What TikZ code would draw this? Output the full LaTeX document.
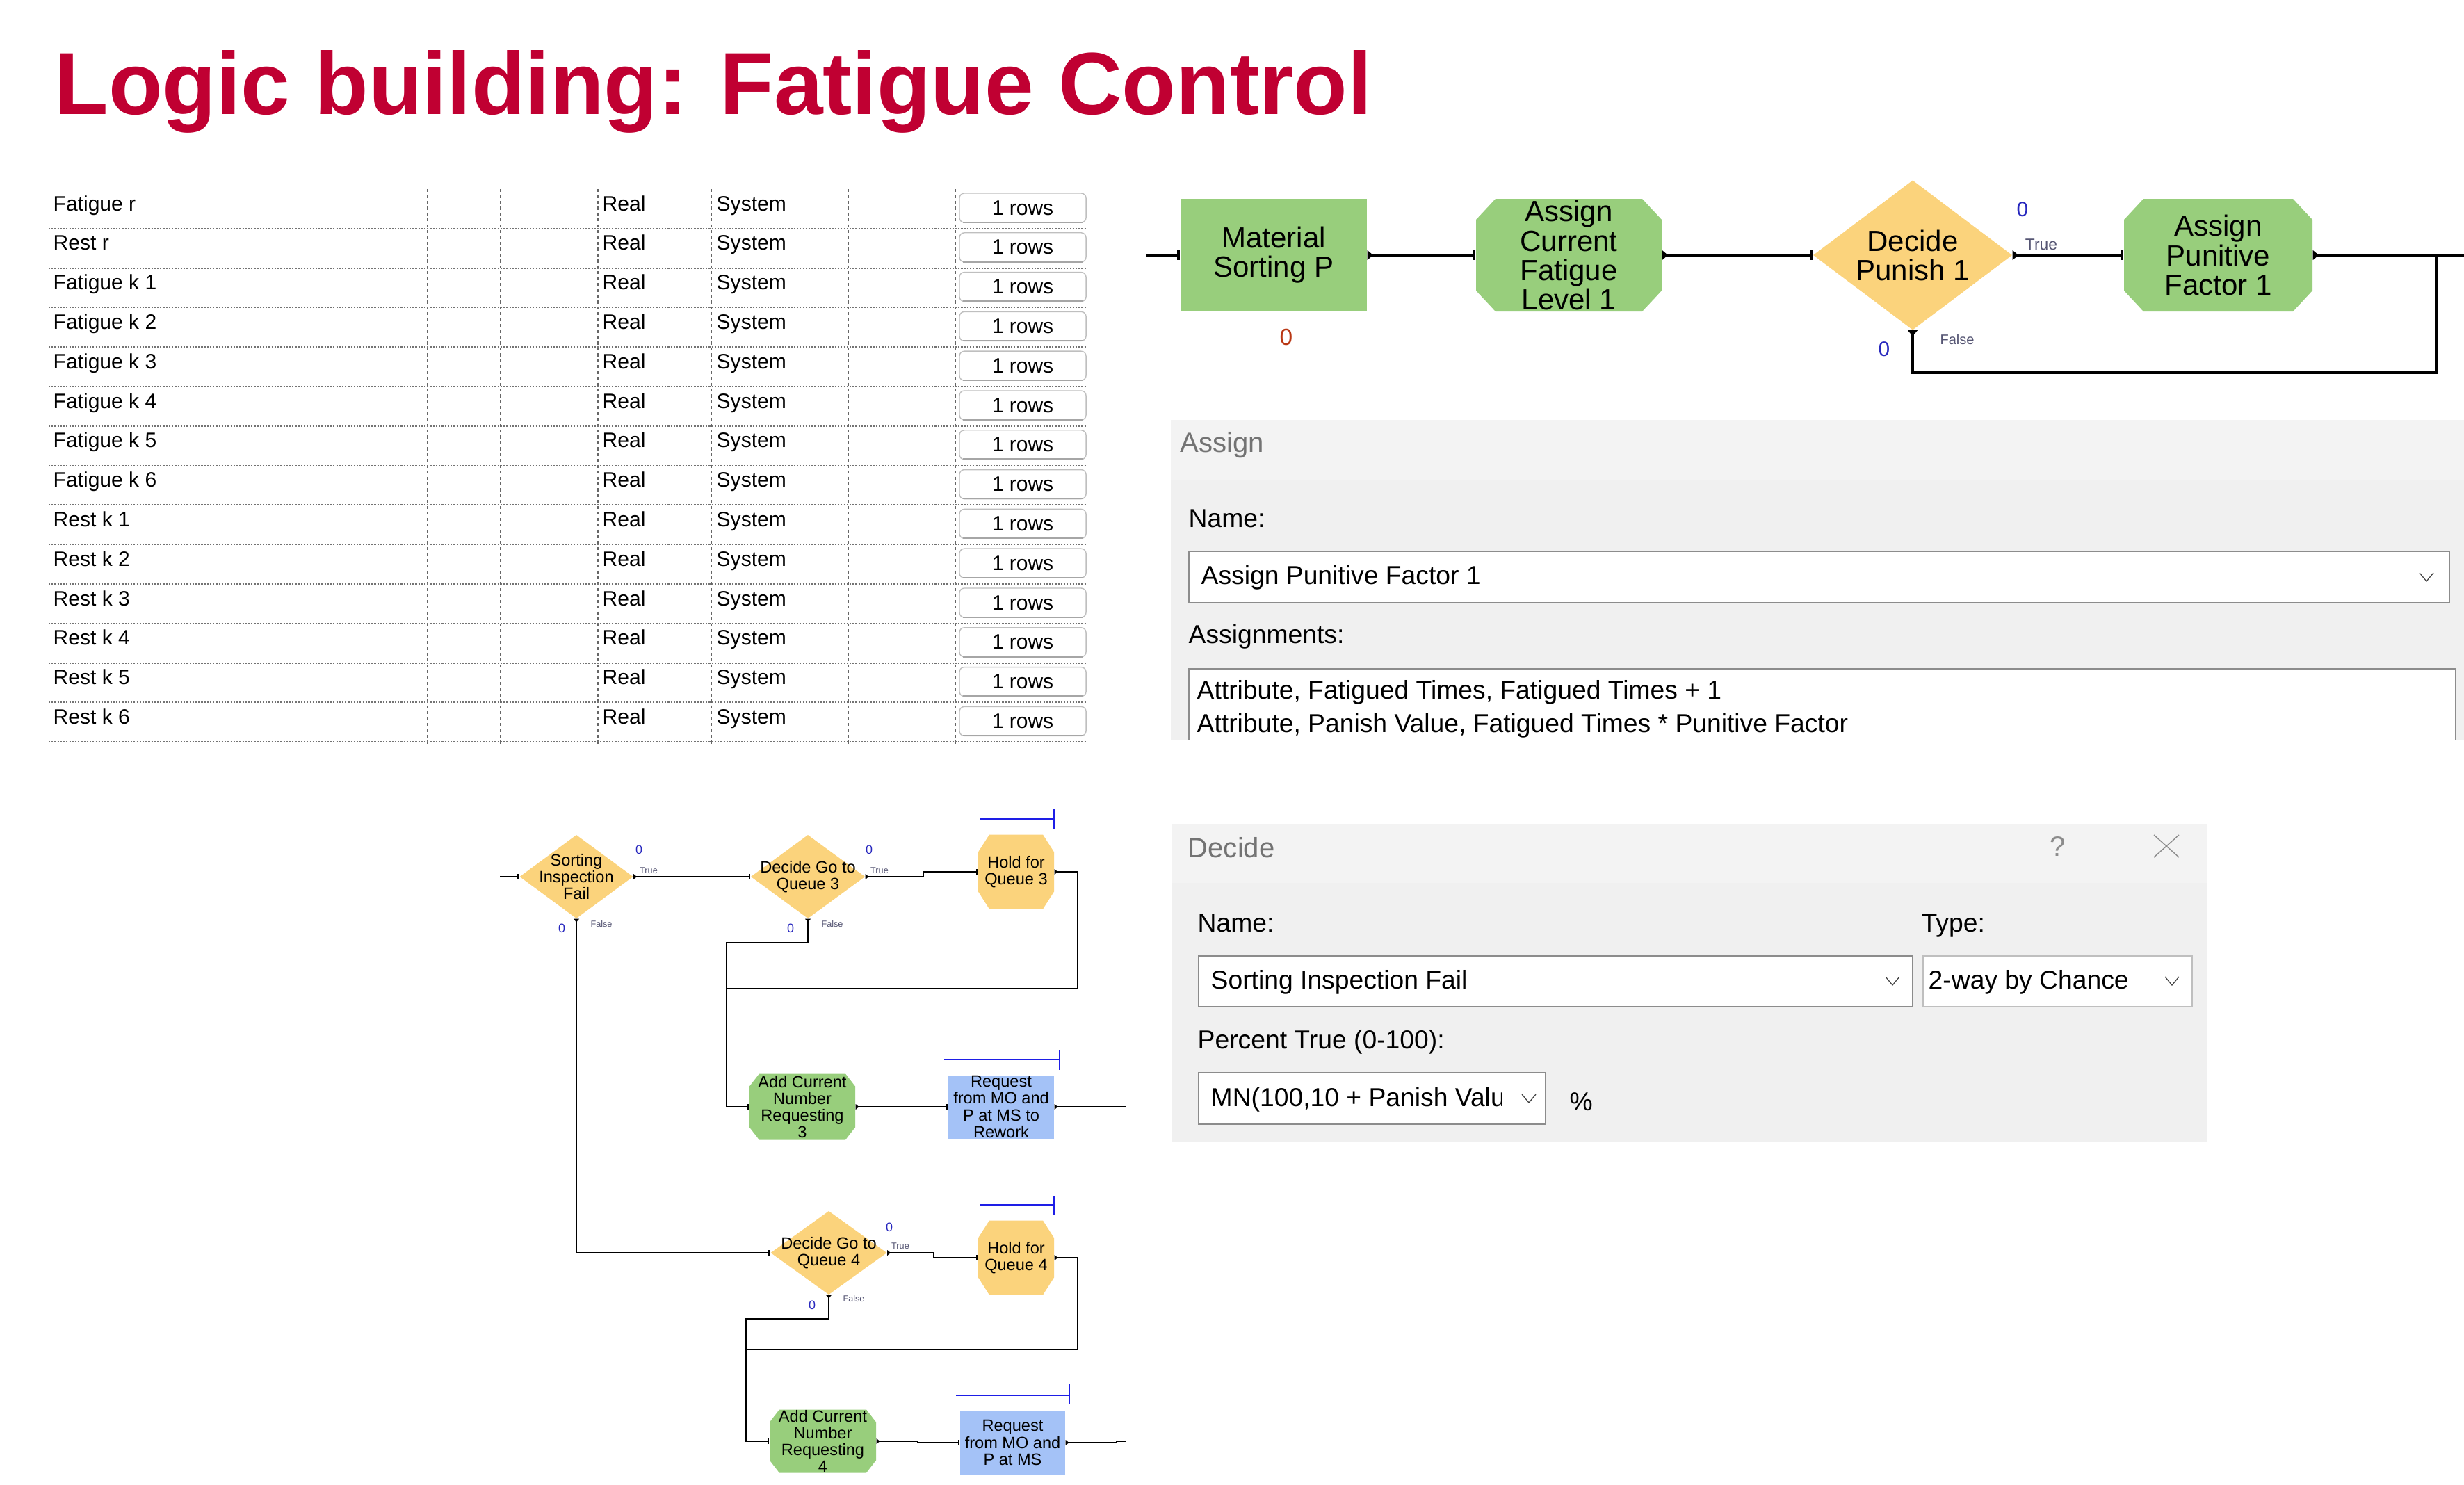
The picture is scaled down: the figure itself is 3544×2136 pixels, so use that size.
\documentclass[tikz,border=0pt]{standalone}
\usepackage{fontspec}
\setmainfont{Liberation Sans}
\usetikzlibrary{calc}
\definecolor{titlered}{RGB}{192,0,50}
\definecolor{pgreen}{RGB}{152,206,124}
\definecolor{dyellow}{RGB}{251,211,124}
\definecolor{rblue}{RGB}{164,194,247}
\definecolor{panelgrey}{RGB}{240,240,240}
\definecolor{panelhead}{RGB}{243,243,243}
\definecolor{cntblue}{RGB}{40,40,190}
\definecolor{cntred}{RGB}{185,55,20}
\definecolor{lblgrey}{RGB}{85,85,115}
\definecolor{qblue}{RGB}{30,30,230}
\newcommand\octblk[9]{%
  \fill[#8] ({#2-#4/2+#6},{#3-#5/2}) -- ({#2+#4/2-#6},{#3-#5/2}) -- ({#2+#4/2},{#3-#5/2+#7}) -- ({#2+#4/2},{#3+#5/2-#7}) -- ({#2+#4/2-#6},{#3+#5/2}) -- ({#2-#4/2+#6},{#3+#5/2}) -- ({#2-#4/2},{#3+#5/2-#7}) -- ({#2-#4/2},{#3-#5/2+#7}) -- cycle;
  \node[blk,minimum width={#4*0.01cm},minimum height={#5*0.01cm}] (#1) at (#2,#3) {#9};}
\newcommand\rectblk[7]{%
  \fill[#6] ({#2-#4/2},{#3-#5/2}) rectangle ({#2+#4/2},{#3+#5/2});
  \node[blk,minimum width={#4*0.01cm},minimum height={#5*0.01cm}] (#1) at (#2,#3) {#7};}
\newcommand\diamblk[7]{%
  \fill[#6] ({#2-#4/2},#3) -- (#2,{#3-#5/2}) -- ({#2+#4/2},#3) -- (#2,{#3+#5/2}) -- cycle;
  \node[blk,minimum width={#4*0.01cm},minimum height={#5*0.01cm}] (#1) at (#2,#3) {#7};}
\newcommand\inmk[2]{\fill ($(#1)+(-#2*0.65,-#2)$) rectangle ($(#1)+(0,#2)$);}
\newcommand\outmk[2]{\fill ($(#1)+(0,-#2)$) -- ($(#1)+(#2*1.2,0)$) -- ($(#1)+(0,#2)$) -- cycle;}
\newcommand\downmk[2]{\fill ($(#1)+(-#2,0)$) -- ($(#1)+(0,#2*1.2)$) -- ($(#1)+(#2,0)$) -- cycle;}
\newcommand\chev[2]{\draw[line width=0.35pt,black!75] ({#1-10},{#2-6}) -- (#1,{#2+6}) -- ({#1+10},{#2-6});}
\begin{document}
\begin{tikzpicture}[x=0.01cm,y=-0.01cm,
  blk/.style={inner sep=0pt,align=center,text=black,blkfont},
  blkfont/.style={font=\fontsize{11.95}{11.95}\selectfont},
  topconn/.style={line width=1.1pt},
  botconn/.style={line width=0.7pt},
  tbl/.style={anchor=base west,inner sep=0pt,font=\fontsize{8.54}{10}\selectfont},
  btn/.style={draw=black!25,fill=white,rounded corners=0.07cm,minimum width=1.82cm,minimum height=0.42cm,inner sep=0pt,font=\fontsize{8.54}{10}\selectfont},
  hdot/.style={black!55,line width=0.6pt,dash pattern=on 0.6pt off 0.6pt},
  vdash/.style={black!60,line width=0.3pt,dash pattern=on 1.2pt off 1.2pt},
  qline/.style={qblue,line width=0.8pt},
  cntb/.style={inner sep=0pt,text=cntblue,font=\fontsize{5.1}{6}\selectfont},
  tf/.style={inner sep=0pt,text=lblgrey,font=\fontsize{3.6}{4}\selectfont},
  cntbt/.style={inner sep=0pt,text=cntblue,font=\fontsize{8.5}{10}\selectfont},
  cntr/.style={inner sep=0pt,text=cntred,font=\fontsize{9.5}{11}\selectfont},
  tft/.style={inner sep=0pt,text=lblgrey,font=\fontsize{6.5}{7}\selectfont},
  tft2/.style={inner sep=0pt,text=lblgrey,font=\fontsize{5.7}{6}\selectfont},
  dlab/.style={anchor=base west,inner sep=0pt,font=\fontsize{10.6}{12}\selectfont},
  dtitle/.style={anchor=base west,inner sep=0pt,text=black!55,font=\fontsize{11.4}{13}\selectfont},
  dbox/.style={draw=black!45,line width=0.5pt,fill=white}]
\useasboundingbox (0,0) rectangle (3544,2136);

% title
\node[anchor=base west,inner sep=0pt,text=titlered,font=\fontsize{36.1}{40}\selectfont\bfseries] (title) at (78,164) {Logic building: Fatigue Control};

% table
\foreach \x in {615,720,860,1023,1220,1374}{\draw[vdash] (\x,272) -- (\x,1070);}
\foreach \k in {1,...,14}{\draw[hdot] (70,{272+56.8*\k}) -- (1562,{272+56.8*\k});}
\foreach \n [count=\i from 0] in {Fatigue r,Rest r,Fatigue k 1,Fatigue k 2,Fatigue k 3,Fatigue k 4,Fatigue k 5,Fatigue k 6,Rest k 1,Rest k 2,Rest k 3,Rest k 4,Rest k 5,Rest k 6}{
  \node[tbl] (nm\i) at (76,{272+56.8*\i+31}) {\n};
  \node[tbl] (re\i) at (866,{272+56.8*\i+31}) {Real};
  \node[tbl] (sy\i) at (1030,{272+56.8*\i+31}) {System};
  \node[btn] (bt\i) at (1471,{272+56.8*\i+27}) {1 rows};
  \draw[black!35,line width=0.6pt] ($(bt\i.south west)+(6,-1)$) -- ($(bt\i.south east)+(-6,-1)$);
}

% top flowchart
\octblk{acf}{2256.5}{367}{267}{162}{28}{30}{pgreen}{Assign\\Current\\Fatigue\\Level 1}
\rectblk{msp}{1832}{367}{268}{162}{pgreen}{Material\\Sorting P}
\diamblk{dp1}{2751}{367}{286}{215}{dyellow}{Decide\\Punish 1}
\octblk{apf}{3190.5}{367}{271}{162}{28}{30}{pgreen}{Assign\\Punitive\\Factor 1}
\coordinate (tin) at (1648,367);
\coordinate (tout) at (3544,367);
\coordinate (lpr) at (3504,367);
\draw[topconn] (tin) -- (msp.west);
\draw[topconn] (msp.east) -- (acf.west);
\draw[topconn] (acf.east) -- (dp1.west);
\draw[topconn] (dp1.east) -- (apf.west);
\draw[topconn] (apf.east) -- (tout);
\draw[topconn] (lpr) -- (3504,536) -- (dp1.south |- 0,536) -- (dp1.south);
\foreach \b in {msp,acf,dp1,apf}{\inmk{\b.west}{7}\outmk{\b.east}{7}}
\downmk{dp1.south}{7}
\node[cntr] (z0) at (1850,485) {0};
\node[cntbt] (z3) at (2909,301) {0};
\node[tft] (t0) at (2936,352) {True};
\node[cntbt] (z4) at (2710,502) {0};
\node[tft2] (f0) at (2815,488) {False};

% assign panel
\fill[panelgrey] (1684,604) rectangle (3544,1064);
\fill[panelhead] (1684,604) rectangle (3544,690);
\node[dtitle] (atitle) at (1697,650) {Assign};
\node[dlab] (aname) at (1709,758) {Name:};
\draw[dbox] (1710,793) rectangle (3523,867);
\node[dlab] (aval) at (1727,840) {Assign Punitive Factor 1};
\chev{3490}{830}
\node[dlab] (aasg) at (1709,925) {Assignments:};
\fill[white] (1710,962) rectangle (3532,1064);
\draw[black!45,line width=0.5pt] (1710,1064) -- (1710,962) -- (3532,962) -- (3532,1064);
\node[dlab] (al1) at (1721,1005) {Attribute, Fatigued Times, Fatigued Times + 1};
\node[dlab] (al2) at (1721,1053) {Attribute, Panish Value, Fatigued Times * Punitive Factor};

% decide panel
\fill[panelgrey] (1685,1185) rectangle (3175,1643);
\fill[panelhead] (1685,1185) rectangle (3175,1270);
\node[dtitle] (dtit) at (1708,1233) {Decide};
\node[inner sep=0pt,text=black!45,font=\fontsize{11.4}{13}\selectfont] (qm) at (2960,1217) {?};
\draw[black!45,line width=0.4pt] (3098,1201) -- (3134,1233) (3098,1233) -- (3134,1201);
\node[dlab] (dname) at (1722,1340) {Name:};
\node[dlab] (dtype) at (2763,1340) {Type:};
\draw[dbox] (1724,1375) rectangle (2751,1448);
\node[dlab] (dval) at (1741,1422) {Sorting Inspection Fail};
\chev{2722}{1411}
\draw[dbox,draw=black!25] (2766,1375) rectangle (3153,1448);
\node[dlab] (dtv) at (2773,1422) {2-way by Chance};
\chev{3124}{1411}
\node[dlab] (dpt) at (1722,1508) {Percent True (0-100):};
\draw[dbox] (1724,1543) rectangle (2223,1617);
\begin{scope}
\clip (1730,1548) rectangle (2160,1612);
\node[dlab] (dpv) at (1741,1591) {MN(100,10 + Panish Value)};
\end{scope}
\chev{2199}{1580}
\node[dlab] (pct) at (2257,1597) {\%};

% bottom flowchart
\begin{scope}[blkfont/.style={font=\fontsize{6.7}{6.83}\selectfont}]
\diamblk{sif}{829}{1261}{163}{120}{dyellow}{Sorting\\Inspection\\Fail}
\diamblk{dq3}{1162}{1261}{164}{120}{dyellow}{Decide Go to\\Queue 3}
\octblk{hq3}{1461.5}{1254}{109}{107}{16}{25}{dyellow}{Hold for\\Queue 3}
\octblk{ac3}{1154}{1592}{152}{95}{14}{18}{pgreen}{Add Current\\Number\\Requesting\\3}
\rectblk{rq3}{1440}{1592}{152}{91}{rblue}{Request\\from MO and\\P at MS to\\Rework}
\diamblk{dq4}{1192}{1802}{167}{120}{dyellow}{Decide Go to\\Queue 4}
\octblk{hq4}{1461.5}{1809}{109}{107}{16}{25}{dyellow}{Hold for\\Queue 4}
\octblk{ac4}{1183.5}{2073}{153}{91}{14}{18}{pgreen}{Add Current\\Number\\Requesting\\4}
\rectblk{rq4}{1456.5}{2075}{151}{92}{rblue}{Request\\from MO and\\P at MS}
\end{scope}
\coordinate (sin) at (719,1261);
\coordinate (j3) at (1045,1422);
\coordinate (o3) at (1620,1592);
\coordinate (j4) at (1073,1941);
\coordinate (o4) at (1620,2073);
\draw[botconn] (sin) -- (sif.west);
\draw[botconn] (sif.east) -- (dq3.west);
\draw[botconn] (dq3.east) -- (1328,1261) -- (1328,1254) -- (hq3.west);
\draw[botconn] (hq3.east) -- (1550,1254) -- (1550,1422) -- (j3);
\draw[botconn] (dq3.south) -- (1162,1356) -- (1045,1356) -- (1045,1592) -- (ac3.west);
\draw[botconn] (ac3.east) -- (rq3.west);
\draw[botconn] (rq3.east) -- (o3);
\draw[botconn] (sif.south) -- (829,1802) -- (dq4.west);
\draw[botconn] (dq4.east) -- (1343,1802) -- (1343,1809) -- (hq4.west);
\draw[botconn] (hq4.east) -- (1550,1809) -- (1550,1941) -- (j4);
\draw[botconn] (dq4.south) -- (1192,1897) -- (1073,1897) -- (1073,2073) -- (ac4.west);
\draw[botconn] (ac4.east) -- (1320,2073) -- (1320,2075) -- (rq4.west);
\draw[botconn] (rq4.east) -- (1606,2075) -- (1606,2073) -- (o4);
\foreach \b in {sif,dq3,hq3,ac3,rq3,dq4,hq4,ac4,rq4}{\inmk{\b.west}{4}\outmk{\b.east}{4}}
\foreach \b in {sif,dq3,dq4}{\downmk{\b.south}{4}}
\draw[qline] (1410,1178) -- (1516,1178) (1516,1163) -- (1516,1192);
\draw[qline] (1358,1524) -- (1524,1524) (1524,1511) -- (1524,1539);
\draw[qline] (1410,1733) -- (1516,1733) (1516,1720) -- (1516,1748);
\draw[qline] (1375,2007) -- (1538,2007) (1538,1991) -- (1538,2019);
\node[cntb] (z1) at (919,1222) {0};
\node[tf] (t1) at (933,1252) {True};
\node[cntb] (z2) at (808,1335) {0};
\node[tf] (f1) at (865,1329) {False};
\node[cntb] (z5) at (1250,1222) {0};
\node[tf] (t2) at (1265,1252) {True};
\node[cntb] (z6) at (1137,1335) {0};
\node[tf] (f2) at (1197,1329) {False};
\node[cntb] (z7) at (1279,1765) {0};
\node[tf] (t3) at (1295,1792) {True};
\node[cntb] (z8) at (1168,1877) {0};
\node[tf] (f3) at (1228,1868) {False};
\end{tikzpicture}
\end{document}
